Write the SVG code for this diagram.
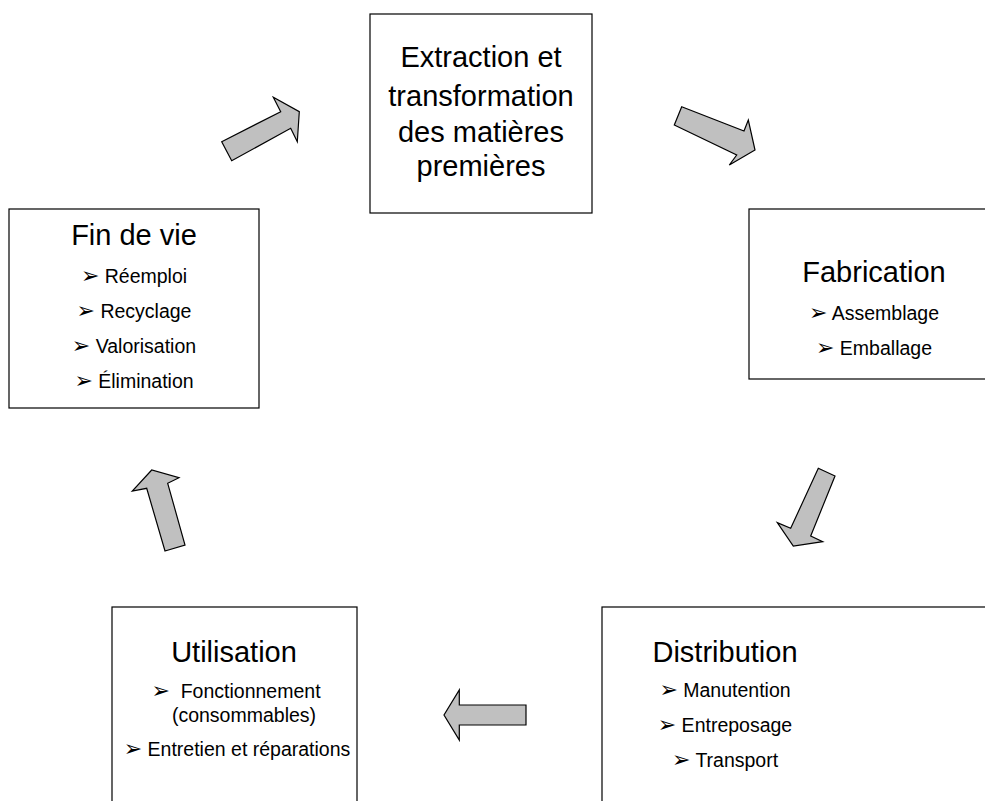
<svg xmlns="http://www.w3.org/2000/svg" width="985" height="801" viewBox="0 0 985 801">
<style>
.box{fill:#fff;stroke:#000;stroke-width:1.2}
.t{font-family:"Liberation Sans",Arial,sans-serif;fill:#000;text-anchor:middle}
.h{font-size:29px}
.i{font-size:19.5px}
.b{font-family:"DejaVu Sans",sans-serif;font-size:22px}
.arr{fill:#c0c0c0;stroke:#000;stroke-width:1.2;stroke-linejoin:miter}
</style>
<rect width="985" height="801" fill="#fff"/>
<g id="extraction">
<rect class="box" x="370" y="14" width="222" height="199"/>
<text class="t h" x="481" y="67">Extraction et</text>
<text class="t h" x="481" y="106">transformation</text>
<text class="t h" x="481" y="142">des matières</text>
<text class="t h" x="481" y="176">premières</text>
</g>
<g id="fabrication">
<rect class="box" x="749" y="209" width="250" height="170"/>
<text class="t h" x="874" y="282">Fabrication</text>
<text class="t i" x="874" y="320"><tspan class="b">➢</tspan> Assemblage</text>
<text class="t i" x="874" y="355"><tspan class="b">➢</tspan> Emballage</text>
</g>
<g id="distribution">
<rect class="box" x="602" y="607" width="400" height="210"/>
<text class="t h" x="725" y="662">Distribution</text>
<text class="t i" x="725" y="697"><tspan class="b">➢</tspan> Manutention</text>
<text class="t i" x="725" y="732"><tspan class="b">➢</tspan> Entreposage</text>
<text class="t i" x="725" y="767"><tspan class="b">➢</tspan> Transport</text>
</g>
<g id="utilisation">
<rect class="box" x="112" y="607" width="245" height="210"/>
<text class="t h" x="234" y="662">Utilisation</text>
<text class="t i" x="236" y="698"><tspan class="b">➢</tspan>&#160; Fonctionnement</text>
<text class="t i" x="244" y="722">(consommables)</text>
<text class="t i" x="237" y="756"><tspan class="b">➢</tspan> Entretien et réparations</text>
</g>
<g id="findevie">
<rect class="box" x="9" y="209" width="250" height="199"/>
<text class="t h" x="134" y="245">Fin de vie</text>
<text class="t i" x="134" y="283"><tspan class="b">➢</tspan> Réemploi</text>
<text class="t i" x="134" y="318"><tspan class="b">➢</tspan> Recyclage</text>
<text class="t i" x="134" y="353"><tspan class="b">➢</tspan> Valorisation</text>
<text class="t i" x="134" y="388"><tspan class="b">➢</tspan> Élimination</text>
</g>
<g id="connectors">
<polygon class="arr" points="221.7,141.7 280.7,111.7 273.3,97.3 299.3,111.7 297.3,141.7 290.7,128.3 231.7,160.7"/>
<polygon class="arr" points="681.7,106.7 744,131 748.3,120 755,150 729.3,165 736.7,155 674.3,125"/>
<polygon class="arr" points="818.3,468.3 835,476 810.7,536 822.7,541.7 793.3,546 777.3,522.7 790.7,528.3"/>
<polygon class="arr" points="526,705 459.3,705 459.3,690 444,715 459.3,740 459.3,725 526,725"/>
<polygon class="arr" points="165,551 185,545 167.7,483.3 179,477.7 151.7,470 132.3,491 146.7,488.3"/>
</g>
</svg>
